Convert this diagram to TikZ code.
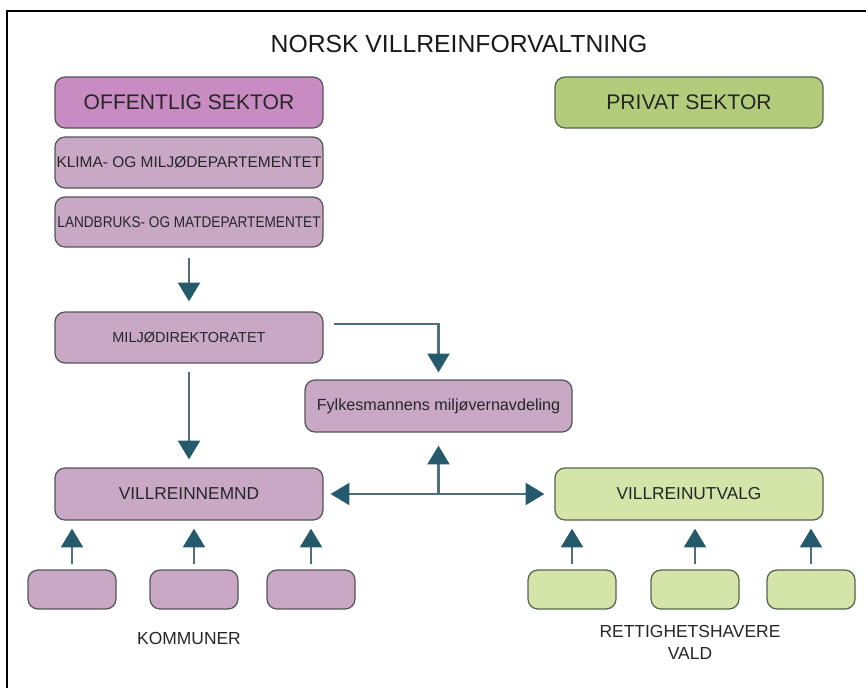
\documentclass[tikz,border=0pt]{standalone}
\usepackage{fontspec}
\setmainfont{Liberation Sans}
\newfontfamily\narrowfont[FakeStretch=0.88]{Liberation Sans}
\usetikzlibrary{arrows.meta}

\definecolor{offcol}{HTML}{C98CC2}
\definecolor{lilla}{HTML}{C9A8C6}
\definecolor{privcol}{HTML}{B3CC7B}
\definecolor{lysgronn}{HTML}{D5E4A9}
\definecolor{kant}{HTML}{555555}
\definecolor{gronnkant}{HTML}{56654B}
\definecolor{linje}{HTML}{4F6F7D}
\definecolor{pilhode}{HTML}{245A6C}

\begin{document}
\begin{tikzpicture}[
        block/.style={rectangle, draw=kant, line width=0.9pt, rounded corners=0.25cm,
            minimum width=6.7cm, minimum height=1.275cm, inner sep=0pt, align=center,
            text=black!85},
        small/.style={rectangle, draw=kant, line width=0.9pt, rounded corners=0.25cm,
            minimum width=2.2cm, minimum height=0.975cm},
        tip/.tip={Triangle[width=0.55cm, length=0.47cm, color=pilhode]},
        arrow/.style={-tip, draw=linje, line width=1.6pt},
        twoway/.style={tip-tip, draw=linje, line width=1.6pt}
    ]
        \useasboundingbox (0,0) rectangle (21.65,-17.175);
        % Frame (cut at right and bottom)
        \draw[line width=1.9pt] (21.8,-0.275) -- (0.175,-0.275) -- (0.175,-17.3);

        % Title
        \node[font=\fontsize{17.6}{20}\selectfont, text=black!90] (title) at (11.475,-1.09)
            {NORSK VILLREINFORVALTNING};

        % Sectors
        \node[block, fill=offcol, font=\fontsize{15}{18}\selectfont] (offentlig) at (4.725,-2.5625)
            {OFFENTLIG SEKTOR};
        \node[block, fill=privcol, draw=gronnkant, font=\fontsize{15}{18}\selectfont] (privat) at (17.225,-2.5625)
            {PRIVAT SEKTOR};

        % Departments
        \node[block, fill=lilla, font=\fontsize{11}{13}\selectfont] (klima) at (4.725,-4.0625)
            {KLIMA- OG MILJØDEPARTEMENTET};
        \node[block, fill=lilla, minimum height=1.25cm, font=\narrowfont\fontsize{11}{13}\selectfont] (landbruk) at (4.725,-5.55)
            {LANDBRUKS- OG MATDEPARTEMENTET};

        % Directorate and county
        \node[block, fill=lilla, font=\fontsize{10.3}{12}\selectfont] (miljodir) at (4.725,-8.4375)
            {MILJØDIREKTORATET};
        \node[block, fill=lilla, minimum width=6.675cm, minimum height=1.3cm, font=\fontsize{11.5}{14}\selectfont] (fylkesmann) at (10.9625,-10.15)
            {Fylkesmannens miljøvernavdeling};

        % Boards
        \node[block, fill=lilla, minimum height=1.3cm, font=\fontsize{12.3}{15}\selectfont] (nemnd) at (4.725,-12.35)
            {VILLREINNEMND};
        \node[block, fill=lysgronn, draw=gronnkant, minimum height=1.3cm, font=\fontsize{12.3}{15}\selectfont] (utvalg) at (17.225,-12.35)
            {VILLREINUTVALG};

        % Municipalities
        \node[small, fill=lilla] (kom1) at (1.8,-14.7375) {};
        \node[small, fill=lilla] (kom2) at (4.85,-14.7375) {};
        \node[small, fill=lilla] (kom3) at (7.775,-14.7375) {};
        \node[font=\fontsize{12.4}{15}\selectfont, text=black!85] (kommuner) at (4.725,-15.95) {KOMMUNER};

        % Rights holders
        \node[small, fill=lysgronn, draw=gronnkant] (rett1) at (14.3,-14.7375) {};
        \node[small, fill=lysgronn, draw=gronnkant] (rett2) at (17.375,-14.7375) {};
        \node[small, fill=lysgronn, draw=gronnkant] (rett3) at (20.275,-14.7375) {};
        \node[align=center, font=\fontsize{12.4}{15}\selectfont, text=black!85] (rettighet) at (17.25,-16.06)
            {RETTIGHETSHAVERE\\VALD};

        % Connect everything
        \draw[arrow, shorten <=0.25cm, shorten >=0.25cm] (landbruk) -- (miljodir);
        \draw[arrow, shorten <=0.2cm, shorten >=0.2cm] (miljodir) -- (nemnd);
        \draw[arrow, shorten >=0.175cm] ([xshift=0.25cm, yshift=0.3375cm]miljodir.east) -| (fylkesmann.north);
        \draw[twoway, shorten <=0.175cm, shorten >=0.25cm] (nemnd) -- (utvalg);
        \draw[arrow, shorten >=0.325cm] (nemnd -| fylkesmann) -- (fylkesmann);

        \draw[arrow, shorten <=0.125cm, shorten >=0.2cm] (kom1.north) -- (kom1.north |- nemnd.south);
        \draw[arrow, shorten <=0.125cm, shorten >=0.2cm] (kom2.north) -- (kom2.north |- nemnd.south);
        \draw[arrow, shorten <=0.125cm, shorten >=0.2cm] (kom3.north) -- (kom3.north |- nemnd.south);
        \draw[arrow, shorten <=0.125cm, shorten >=0.2cm] (rett1.north) -- (rett1.north |- utvalg.south);
        \draw[arrow, shorten <=0.125cm, shorten >=0.2cm] (rett2.north) -- (rett2.north |- utvalg.south);
        \draw[arrow, shorten <=0.125cm, shorten >=0.2cm] (rett3.north) -- (rett3.north |- utvalg.south);
    \end{tikzpicture}
\end{document}
